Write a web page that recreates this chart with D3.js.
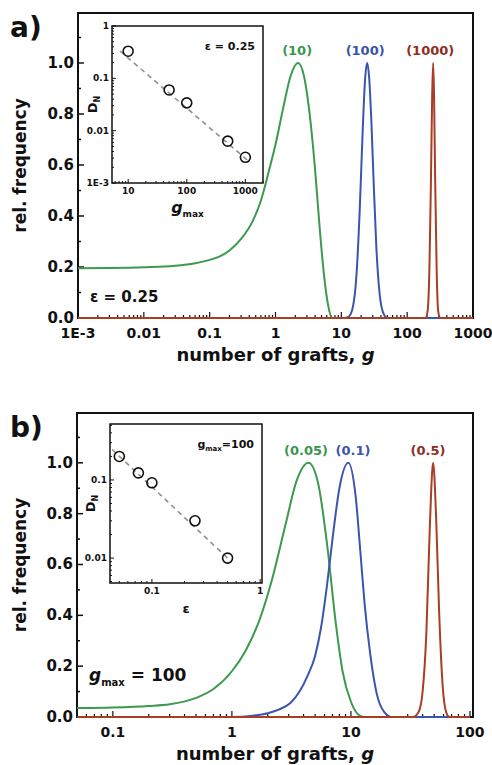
<!DOCTYPE html>
<html>
<head>
<meta charset="utf-8">
<script src="https://cdn.jsdelivr.net/npm/d3@7"></script>
<style>
  body { margin: 0; background: #fff; }
  svg { display: block; }
  text { font-family: "DejaVu Sans", sans-serif; font-weight: bold; fill: #111; }
</style>
</head>
<body>
<div id="chart"></div>
<script>
// ---- panel a) : eps = 0.25, curves for g_max = 10, 100, 1000
var aGreenG = [0.001, 0.003, 0.01, 0.03, 0.06, 0.1, 0.15, 0.2, 0.3, 0.45, 0.6, 0.8, 1.0, 1.3, 1.7, 2.2, 2.7, 3.3, 4.0, 4.7, 5.5, 6.3, 7.2, 10, 1000]
var aGreenF = [0.195, 0.196, 0.199, 0.205, 0.215, 0.228, 0.245, 0.265, 0.31, 0.38, 0.46, 0.58, 0.68, 0.82, 0.95, 1.0, 0.95, 0.8, 0.58, 0.35, 0.16, 0.05, 0.0, 0, 0]
var aBlueG = [0.001, 11, 13, 15, 17, 19, 21, 23, 24.7, 26.5, 28.5, 31, 34, 38, 43, 50, 1000]
var aBlueF = [0, 0, 0.006, 0.044, 0.17, 0.42, 0.72, 0.94, 1.0, 0.94, 0.78, 0.53, 0.28, 0.1, 0.022, 0, 0]
var aRedG = [0.001, 190, 205, 218, 230, 240, 248, 256, 266, 280, 295, 315, 1000]
var aRedF = [0, 0, 0.03, 0.2, 0.55, 0.88, 1.0, 0.88, 0.55, 0.2, 0.03, 0, 0]
var aLabels = ['(10)', '(100)', '(1000)']
var aLabelG = [2.13, 23, 224]
var aXTicks = [0.001, 0.01, 0.1, 1, 10, 100, 1000]
var aXTickText = ['1E-3', '0.01', '0.1', '1', '10', '100', '1000']

// inset a) : D_N vs g_max
var insetAX = [10, 50, 100, 500, 1000]
var insetAY = [0.33, 0.06, 0.034, 0.0063, 0.0031]
var insetAFitX = [7.3, 1100]
var insetAFitY = [0.33, 0.0027]
var insetAXTicks = [10, 100, 1000]
var insetAXTickText = ['10', '100', '1000']
var insetAYTicks = [1, 0.1, 0.01, 0.001]
var insetAYTickText = ['1', '0.1', '0.01', '1E-3']

// ---- panel b) : g_max = 100, curves for eps = 0.05, 0.1, 0.5
var bGreenG = [0.05, 0.1, 0.2, 0.3, 0.5, 0.7, 1.0, 1.3, 1.7, 2.2, 2.8, 3.5, 4.4, 5.3, 6.3, 7.5, 8.5, 10, 11.5, 13, 100]
var bGreenF = [0.035, 0.037, 0.043, 0.05, 0.075, 0.11, 0.18, 0.26, 0.38, 0.55, 0.75, 0.93, 1.0, 0.92, 0.68, 0.36, 0.18, 0.06, 0.01, 0, 0]
var bBlueG = [0.05, 1.0, 1.5, 2.0, 2.5, 3.1, 3.7, 4.3, 5.0, 5.6, 6.3, 7.0, 8.0, 9.5, 11, 12, 13, 14.5, 16.5, 19, 22, 100]
var bBlueF = [0, 0, 0.005, 0.015, 0.03, 0.055, 0.1, 0.16, 0.24, 0.35, 0.52, 0.7, 0.9, 1.0, 0.86, 0.65, 0.45, 0.25, 0.09, 0.02, 0, 0]
var bRedG = [0.05, 33, 37, 40, 43, 46, 49, 52, 55, 59, 63, 67, 100]
var bRedF = [0, 0, 0.02, 0.1, 0.33, 0.75, 1.0, 0.78, 0.42, 0.12, 0.02, 0, 0]
var bLabels = ['(0.05)', '(0.1)', '(0.5)']
var bLabelG = [4.2, 10.4, 44.4]
var bXTicks = [0.1, 1, 10, 100]
var bXTickText = ['0.1', '1', '10', '100']

// inset b) : D_N vs eps
var insetBX = [0.05, 0.075, 0.1, 0.25, 0.5]
var insetBY = [0.2, 0.123, 0.092, 0.03, 0.01]
var insetBFitX = [0.043, 0.52]
var insetBFitY = [0.245, 0.0095]
var insetBXTicks = [0.1, 1]
var insetBXTickText = ['0.1', '1']
var insetBYTicks = [0.1, 0.01]
var insetBYTickText = ['0.1', '0.01']

var yTicks = [0, 0.2, 0.4, 0.6, 0.8, 1.0]
var colors = ['#3c9a4e', '#3b55ad', '#a83e26']
var labelColors = ['#3a9550', '#3a55a8', '#8c2f1e']

var svg = d3.select('#chart').append('svg')
    .attr('width', 492)
    .attr('height', 765)

function isDecade(v) { return Math.abs(Math.log10(v) - Math.round(Math.log10(v))) < 1e-6 }

function drawPanel(p) {
  var x = d3.scaleLog().domain(p.xDomain).range([p.box.left, p.box.right])
  var y = d3.scaleLinear().domain([0, 1.196]).range([p.box.bottom, p.box.top])
  var g = svg.append('g')

  // panel letter
  g.append('text').attr('x', 10).attr('y', p.box.top + 24)
      .style('font-size', '28px').text(p.letter)

  // y axis ticks (inside)
  d3.range(0, 12).forEach(function(i) {
    var v = i / 10
    g.append('line')
        .attr('x1', p.box.left).attr('x2', p.box.left + (i % 2 == 0 ? 6 : 3))
        .attr('y1', y(v)).attr('y2', y(v))
        .attr('stroke', '#111').attr('stroke-width', 1.5)
  })
  g.selectAll('.ylab').data(yTicks).enter().append('text')
      .attr('x', p.box.left - 4).attr('y', function(d) { return y(d) + 5 })
      .attr('text-anchor', 'end').style('font-size', '15px')
      .text(function(d) { return d.toFixed(1) })

  // x axis ticks (inside)
  x.ticks().forEach(function(v) {
    g.append('line')
        .attr('x1', x(v)).attr('x2', x(v))
        .attr('y1', p.box.bottom).attr('y2', p.box.bottom - (isDecade(v) ? 6 : 3))
        .attr('stroke', '#111').attr('stroke-width', 1.2)
  })
  p.xTicks.forEach(function(v, i) {
    g.append('text').attr('x', x(v)).attr('y', p.box.bottom + 20)
        .attr('text-anchor', 'middle').style('font-size', '14px')
        .text(p.xTickText[i])
  })

  // axis titles
  g.append('text')
      .attr('transform', 'translate(26,' + ((p.box.top + p.box.bottom) / 2) + ') rotate(-90)')
      .attr('text-anchor', 'middle').style('font-size', '17px')
      .text('rel. frequency')
  var xt = g.append('text')
      .attr('x', (p.box.left + p.box.right) / 2).attr('y', p.box.bottom + 43)
      .attr('text-anchor', 'middle').style('font-size', '18px')
  xt.append('tspan').text('number of grafts, ')
  xt.append('tspan').style('font-style', 'italic').text('g')

  // frame
  g.append('rect')
      .attr('x', p.box.left).attr('y', p.box.top)
      .attr('width', p.box.right - p.box.left).attr('height', p.box.bottom - p.box.top)
      .attr('fill', 'none').attr('stroke', '#111').attr('stroke-width', 2)

  // curves
  var line = d3.line().curve(d3.curveMonotoneX)
  p.series.forEach(function(s, k) {
    var pts = s.g.map(function(v, i) { return [x(v), y(s.f[i])] })
    g.append('path').attr('d', line(pts))
        .attr('fill', 'none').attr('stroke', colors[k]).attr('stroke-width', 2)
  })
  p.labels.forEach(function(lab, k) {
    g.append('text').attr('x', x(p.labelG[k])).attr('y', y(1.0) - 8)
        .attr('text-anchor', 'middle').style('font-size', '13px')
        .style('fill', labelColors[k]).text(lab)
  })

  // parameter note
  var note = g.append('text').attr('x', p.box.left + 12).attr('y', p.box.bottom - p.noteUp)
      .style('font-size', '15px')
  p.note(note)

  drawInset(p.inset)
}

function drawInset(q) {
  var x = d3.scaleLog().domain(q.xDomain).range([q.box.left, q.box.right])
  var y = d3.scaleLog().domain(q.yDomain).range([q.box.bottom, q.box.top])
  var g = svg.append('g')

  g.append('rect')
      .attr('x', q.box.left).attr('y', q.box.top)
      .attr('width', q.box.right - q.box.left).attr('height', q.box.bottom - q.box.top)
      .attr('fill', '#fff').attr('stroke', '#111').attr('stroke-width', 1.5)

  x.ticks().forEach(function(v) {
    g.append('line').attr('x1', x(v)).attr('x2', x(v))
        .attr('y1', q.box.bottom).attr('y2', q.box.bottom - (isDecade(v) ? 4 : 2))
        .attr('stroke', '#111').attr('stroke-width', 1)
  })
  y.ticks().forEach(function(v) {
    g.append('line').attr('y1', y(v)).attr('y2', y(v))
        .attr('x1', q.box.left).attr('x2', q.box.left + (isDecade(v) ? 4 : 2))
        .attr('stroke', '#111').attr('stroke-width', 1)
  })
  q.xTicks.forEach(function(v, i) {
    g.append('text').attr('x', x(v)).attr('y', q.box.bottom + 11)
        .attr('text-anchor', 'middle').style('font-size', '9px').text(q.xTickText[i])
  })
  q.yTicks.forEach(function(v, i) {
    g.append('text').attr('x', q.box.left - 3).attr('y', y(v) + 3)
        .attr('text-anchor', 'end').style('font-size', '9px').text(q.yTickText[i])
  })

  // fit line
  g.append('line')
      .attr('x1', x(q.fitX[0])).attr('y1', y(q.fitY[0]))
      .attr('x2', x(q.fitX[1])).attr('y2', y(q.fitY[1]))
      .attr('stroke', '#9c8c84').attr('stroke-width', 1.6).attr('stroke-dasharray', '5,4')

  g.selectAll('.pt').data(q.xs).enter().append('circle')
      .attr('cx', function(d) { return x(d) })
      .attr('cy', function(d, i) { return y(q.ys[i]) })
      .attr('r', 5).attr('fill', 'none').attr('stroke', '#111').attr('stroke-width', 1.6)

  // y title D_N
  var yt = g.append('text')
      .attr('transform', 'translate(' + (q.box.left - 15) + ',' + ((q.box.top + q.box.bottom) / 2) + ') rotate(-90)')
      .attr('text-anchor', 'middle').style('font-size', '13px')
  yt.append('tspan').text('D')
  yt.append('tspan').attr('dy', 3).style('font-size', '8px').text('N')

  q.xTitle(g.append('text').attr('x', (q.box.left + q.box.right) / 2).attr('y', q.box.bottom + 30)
      .attr('text-anchor', 'middle'))
  q.corner(g.append('text').attr('x', q.box.right - 8).attr('y', q.box.top + 24)
      .attr('text-anchor', 'end').style('font-size', '11px'))
}

drawPanel({
  letter: 'a)',
  box: { left: 78, right: 473, top: 13, bottom: 318 },
  xDomain: [1e-3, 1000],
  xTicks: aXTicks, xTickText: aXTickText,
  series: [{ g: aGreenG, f: aGreenF }, { g: aBlueG, f: aBlueF }, { g: aRedG, f: aRedF }],
  labels: aLabels, labelG: aLabelG,
  noteUp: 16,
  note: function(t) { t.text('\u03b5 = 0.25') },
  inset: {
    box: { left: 112, right: 263, top: 26, bottom: 183 },
    xDomain: [5.3, 2000], yDomain: [1e-3, 1],
    xs: insetAX, ys: insetAY, fitX: insetAFitX, fitY: insetAFitY,
    xTicks: insetAXTicks, xTickText: insetAXTickText,
    yTicks: insetAYTicks, yTickText: insetAYTickText,
    xTitle: function(t) {
      t.style('font-size', '16px')
      t.append('tspan').style('font-style', 'italic').text('g')
      t.append('tspan').attr('dy', 4).style('font-size', '9px').text('max')
    },
    corner: function(t) { t.text('\u03b5 = 0.25') }
  }
})

drawPanel({
  letter: 'b)',
  box: { left: 77, right: 473, top: 413, bottom: 717 },
  xDomain: [0.05, 106],
  xTicks: bXTicks, xTickText: bXTickText,
  series: [{ g: bGreenG, f: bGreenF }, { g: bBlueG, f: bBlueF }, { g: bRedG, f: bRedF }],
  labels: bLabels, labelG: bLabelG,
  noteUp: 36,
  note: function(t) {
    t.style('font-size', '17px')
    t.append('tspan').style('font-style', 'italic').text('g')
    t.append('tspan').attr('dy', 5).style('font-size', '10px').text('max')
    t.append('tspan').attr('dy', -5).text(' = 100')
  },
  inset: {
    box: { left: 110, right: 262, top: 424, bottom: 583 },
    xDomain: [0.041, 1.04], yDomain: [0.0048, 0.52],
    xs: insetBX, ys: insetBY, fitX: insetBFitX, fitY: insetBFitY,
    xTicks: insetBXTicks, xTickText: insetBXTickText,
    yTicks: insetBYTicks, yTickText: insetBYTickText,
    xTitle: function(t) { t.style('font-size', '13px').text('\u03b5') },
    corner: function(t) {
      t.append('tspan').text('g')
      t.append('tspan').attr('dy', 3).style('font-size', '7px').text('max')
      t.append('tspan').attr('dy', -3).text('=100')
    }
  }
})
</script>
</body>
</html>
